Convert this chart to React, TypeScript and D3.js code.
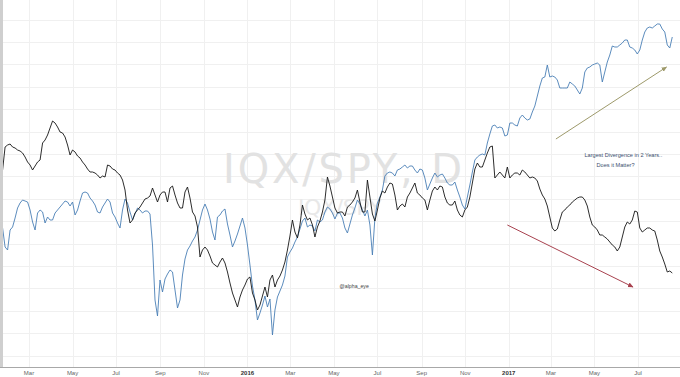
import React from 'react';
import * as d3 from 'd3';

const W = 680;
const H = 377;

// samples every 3.5 days starting 2015-01-23 (weekly closes + mid-week readings)
const startDate = new Date(2015, 0, 23);

const blackWeekly = [
  2.00, 2.25, 2.23, 2.20, 2.17, 2.08, 2.00, 2.08, 2.27, 2.35,
  2.49, 2.43, 2.37, 2.25, 2.20, 2.14, 2.08, 2.01, 1.98, 1.95,
  1.94, 2.05, 2.01, 1.97, 1.90, 1.60, 1.50, 1.60, 1.67, 1.72,
  1.82, 1.68, 1.78, 1.68, 1.84, 1.67, 1.62, 1.83, 1.58, 1.43,
  1.20, 1.20, 1.07, 1.03, 1.12, 0.98, 0.77, 0.63, 0.80, 0.91,
  0.77, 0.60, 0.74, 0.73, 0.95, 0.90, 1.00, 1.20, 1.50, 1.32,
  1.65, 1.50, 1.45, 1.43, 1.58, 1.93, 1.73, 1.57, 1.58, 1.63,
  1.68, 1.80, 1.58, 1.90, 1.56, 1.60, 1.79, 1.83, 1.86, 1.60,
  1.66, 1.73, 1.82, 1.77, 1.72, 1.60, 1.79, 1.80, 1.83, 1.67,
  1.65, 1.60, 1.53, 1.63, 1.87, 2.07, 2.03, 2.17, 2.24, 1.95,
  1.95, 2.03, 1.95, 1.97, 2.00, 1.95, 1.93, 1.89, 1.75, 1.64,
  1.42, 1.41, 1.58, 1.63, 1.68, 1.72, 1.73, 1.64, 1.45, 1.40,
  1.35, 1.31, 1.25, 1.19, 1.33, 1.48, 1.50, 1.58, 1.38, 1.42,
  1.40, 1.30, 1.13, 0.98, 0.97,
];
const blackMidweek = [
  2.23, 2.26, 2.22, 2.19, 2.13, 2.05, 2.04, 2.10, 2.30, 2.42,
  2.47, 2.38, 2.33, 2.15, 2.18, 2.12, 2.05, 1.98, 1.97, 1.92,
  1.93, 2.04, 2.00, 1.95, 1.80, 1.47, 1.57, 1.63, 1.71, 1.74,
  1.75, 1.75, 1.78, 1.82, 1.75, 1.62, 1.78, 1.72, 1.54, 1.13,
  1.23, 1.14, 1.05, 1.08, 1.07, 0.87, 0.70, 0.73, 0.85, 0.93,
  0.70, 0.65, 0.83, 0.90, 0.83, 0.94, 1.08, 1.34, 1.38, 1.45,
  1.56, 1.52, 1.33, 1.49, 1.70, 1.84, 1.62, 1.58, 1.54, 1.65,
  1.72, 1.68, 1.58, 1.73, 1.49, 1.72, 1.77, 1.87, 1.75, 1.64,
  1.63, 1.77, 1.87, 1.75, 1.70, 1.70, 1.83, 1.84, 1.73, 1.65,
  1.69, 1.55, 1.60, 1.73, 2.01, 2.03, 2.10, 2.23, 1.92, 1.98,
  1.92, 1.92, 1.97, 1.95, 1.98, 1.92, 1.92, 1.81, 1.71, 1.53,
  1.39, 1.50, 1.60, 1.65, 1.70, 1.73, 1.70, 1.53, 1.43, 1.35,
  1.33, 1.28, 1.23, 1.23, 1.43, 1.46, 1.59, 1.42, 1.40, 1.42,
  1.39, 1.19, 1.06, 0.99,
];

const blueWeekly = [
  1.42, 1.20, 1.43, 1.62, 1.70, 1.68, 1.48, 1.57, 1.58, 1.53,
  1.50, 1.60, 1.66, 1.68, 1.68, 1.60, 1.77, 1.77, 1.69, 1.58,
  1.63, 1.71, 1.57, 1.47, 1.60, 1.67, 1.50, 1.62, 1.57, 1.59,
  1.25, 0.54, 0.78, 0.96, 0.98, 0.62, 0.95, 1.20, 1.29, 1.40,
  1.60, 1.60, 1.38, 1.53, 1.59, 1.46, 1.23, 1.36, 1.52, 1.25,
  0.84, 0.50, 0.65, 0.63, 0.35, 0.73, 0.85, 1.13, 1.22, 1.33,
  1.49, 1.43, 1.44, 1.50, 1.50, 1.63, 1.57, 1.57, 1.52, 1.37,
  1.55, 1.70, 1.60, 1.60, 1.15, 1.67, 1.80, 1.97, 1.97, 2.00,
  2.03, 2.02, 2.04, 1.97, 2.00, 1.80, 1.92, 1.93, 1.96, 1.87,
  1.85, 1.80, 1.65, 1.73, 1.98, 2.13, 2.16, 2.27, 2.44, 2.42,
  2.42, 2.35, 2.47, 2.44, 2.55, 2.50, 2.58, 2.74, 2.92, 3.05,
  2.94, 2.90, 2.82, 2.82, 2.86, 2.80, 2.82, 3.02, 3.05, 3.07,
  2.88, 3.08, 3.24, 3.23, 3.27, 3.30, 3.22, 3.16, 3.30, 3.42,
  3.42, 3.46, 3.41, 3.25, 3.33,
];
const blueMidweek = [
  1.23, 1.40, 1.52, 1.67, 1.69, 1.60, 1.40, 1.60, 1.47, 1.50,
  1.57, 1.63, 1.69, 1.64, 1.55, 1.69, 1.78, 1.72, 1.65, 1.57,
  1.67, 1.68, 1.53, 1.42, 1.71, 1.58, 1.56, 1.60, 1.59, 1.56,
  0.70, 0.90, 0.91, 1.00, 0.80, 0.70, 1.11, 1.24, 1.33, 1.50,
  1.66, 1.51, 1.30, 1.55, 1.61, 1.35, 1.29, 1.44, 1.42, 1.05,
  0.70, 0.57, 0.74, 0.71, 0.60, 0.79, 0.94, 1.18, 1.28, 1.41,
  1.52, 1.45, 1.39, 1.48, 1.58, 1.61, 1.51, 1.57, 1.42, 1.46,
  1.62, 1.66, 1.54, 1.45, 1.52, 1.73, 1.94, 1.98, 1.94, 2.01,
  2.05, 2.04, 2.00, 2.01, 1.92, 1.86, 1.97, 1.95, 1.92, 1.85,
  1.88, 1.73, 1.61, 1.85, 2.10, 2.15, 2.15, 2.36, 2.45, 2.43,
  2.34, 2.47, 2.45, 2.52, 2.52, 2.51, 2.64, 2.84, 2.93, 2.93,
  2.93, 2.82, 2.82, 2.88, 2.84, 2.76, 2.98, 3.03, 3.06, 3.05,
  2.98, 3.15, 3.23, 3.25, 3.30, 3.23, 3.20, 3.20, 3.38, 3.43,
  3.44, 3.46, 3.38, 3.22,
];

const tickDates = [
  new Date(2015, 2, 1), new Date(2015, 4, 1), new Date(2015, 6, 1), new Date(2015, 8, 1),
  new Date(2015, 10, 1), new Date(2016, 0, 1), new Date(2016, 2, 1), new Date(2016, 4, 1),
  new Date(2016, 6, 1), new Date(2016, 8, 1), new Date(2016, 10, 1), new Date(2017, 0, 1),
  new Date(2017, 2, 1), new Date(2017, 4, 1), new Date(2017, 6, 1),
];
const tickLabels = ['Mar', 'May', 'Jul', 'Sep', 'Nov', '2016', 'Mar', 'May', 'Jul', 'Sep', 'Nov', '2017', 'Mar', 'May', 'Jul'];

const gridValues = [0.14, 0.37, 0.59, 0.82, 1.04, 1.26, 1.49, 1.71, 1.94, 2.16, 2.38, 2.61, 2.83, 3.06, 3.28, 3.50];

// annotations in data space
const upArrow = { from: [new Date(2017, 2, 8), 2.31], to: [new Date(2017, 7, 10), 3.03] };
const downArrow = { from: [new Date(2016, 11, 30), 1.45], to: [new Date(2017, 5, 24), 0.83] };
const noteLines = [
  { text: 'Largest Divergence in 2 Years..', date: new Date(2017, 3, 17), value: 2.13 },
  { text: 'Does it Matter?', date: new Date(2017, 4, 4), value: 2.03 },
];
const credit = { text: '@alpha_eye', date: new Date(2016, 4, 9), value: 0.82 };

function interleave(weekly: number[], mid: number[]): number[] {
  const out: number[] = [];
  weekly.forEach((v, i) => {
    out.push(v);
    if (i < mid.length) out.push(mid[i]);
  });
  return out;
}

export default function App() {
  const x = d3.scaleTime().domain([new Date(2015, 2, 1), new Date(2017, 6, 1)]).range([29, 638]);
  const y = d3.scaleLinear().domain([0, 3.7]).range([370, 0]);
  const blackValues = interleave(blackWeekly, blackMidweek);
  const blueValues = interleave(blueWeekly, blueMidweek);
  const dates = blackValues.map((_, i) => d3.timeHour.offset(startDate, 84 * i));
  const line = d3
    .line<number>()
    .x((_, i) => x(dates[i]))
    .y((d) => y(d));

  const axisY = 367;
  const font = 'Arial, "Liberation Sans", sans-serif';

  return (
    <svg width={W} height={H} style={{ position: 'absolute', left: 0, top: 0, background: '#fff' }}>
      <defs>
        <marker id="ahUp" markerWidth="6" markerHeight="6" refX="5" refY="3" orient="auto" markerUnits="userSpaceOnUse">
          <path d="M0,0.5 L5.5,3 L0,5.5 z" fill="#9e9a6b" />
        </marker>
        <marker id="ahDown" markerWidth="6" markerHeight="6" refX="5" refY="3" orient="auto" markerUnits="userSpaceOnUse">
          <path d="M0,0.5 L5.5,3 L0,5.5 z" fill="#a8424f" />
        </marker>
      </defs>
      <rect x={0} y={0} width={W} height={H} fill="#fff" />
      {/* grid */}
      {gridValues.map((v, i) => (
        <line key={'h' + i} x1={0} x2={W} y1={Math.round(y(v)) + 0.5} y2={Math.round(y(v)) + 0.5} stroke="#f0f0f0" strokeWidth={1} />
      ))}
      {tickDates.map((d, i) => (
        <line key={'v' + i} x1={Math.round(x(d)) + 0.5} x2={Math.round(x(d)) + 0.5} y1={0} y2={axisY} stroke="#f0f0f0" strokeWidth={1} />
      ))}
      {/* watermark */}
      <text x={342.5} y={183} textAnchor="middle" fontFamily='"DejaVu Sans", sans-serif' fontSize={40} fill="#e2e2e2" textLength={239} lengthAdjust="spacing">
        IQX/SPY, D
      </text>
      <text x={340} y={215} textAnchor="middle" fontFamily='"DejaVu Sans", sans-serif' fontSize={22} fill="#e8e8e8" textLength={84} lengthAdjust="spacing">
        IQX/SPY
      </text>
      {/* series */}
      <path d={line(blueValues) || ''} fill="none" stroke="#4a7fb5" strokeWidth={0.9} strokeLinejoin="round" />
      <path d={line(blackValues) || ''} fill="none" stroke="#151515" strokeWidth={0.9} strokeLinejoin="round" />
      {/* annotations */}
      <line x1={x(upArrow.from[0] as Date)} y1={y(upArrow.from[1] as number)} x2={x(upArrow.to[0] as Date)} y2={y(upArrow.to[1] as number)} stroke="#9e9a6b" strokeWidth={1} markerEnd="url(#ahUp)" />
      <line x1={x(downArrow.from[0] as Date)} y1={y(downArrow.from[1] as number)} x2={x(downArrow.to[0] as Date)} y2={y(downArrow.to[1] as number)} stroke="#a8424f" strokeWidth={1} markerEnd="url(#ahDown)" />
      {noteLines.map((n, i) => (
        <text key={'n' + i} x={x(n.date)} y={y(n.value)} fontFamily={font} fontSize={5.6} fill="#3c4f6e">
          {n.text}
        </text>
      ))}
      <text x={x(credit.date)} y={y(credit.value)} fontFamily={font} fontSize={5.2} fill="#444">
        {credit.text}
      </text>
      {/* left border */}
      <rect x={0} y={0} width={3} height={axisY + 1} fill="#cfcfcf" />
      {/* time axis */}
      <line x1={0} x2={W} y1={axisY + 0.5} y2={axisY + 0.5} stroke="#a8a8a8" strokeWidth={1} />
      {tickDates.map((d, i) => {
        const isYear = /^\d{4}$/.test(tickLabels[i]);
        return (
          <text key={'t' + i} x={x(d)} y={375} textAnchor="middle" fontFamily={font} fontSize={6} fontWeight={isYear ? 'bold' : 'normal'} fill={isYear ? '#333' : '#666'}>
            {tickLabels[i]}
          </text>
        );
      })}
    </svg>
  );
}
